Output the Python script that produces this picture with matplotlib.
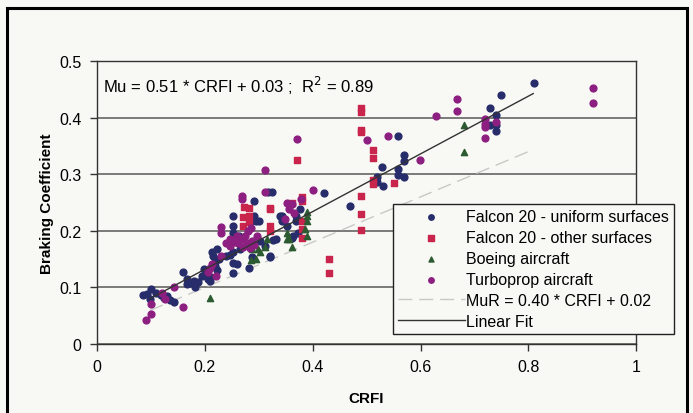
import matplotlib
matplotlib.use("Agg")
import matplotlib.pyplot as plt
import numpy as np
from matplotlib.patches import Rectangle

plt.rcParams["font.family"] = ["Liberation Sans", "DejaVu Sans"]

# Falcon 20 - uniform surfaces
uni_x = [0.085, 0.092, 0.098, 0.101, 0.109, 0.118, 0.129, 0.135, 0.142, 0.125,
         0.160, 0.166, 0.166, 0.172, 0.179, 0.188, 0.194, 0.203, 0.210, 0.210, 0.182, 0.198,
         0.213, 0.215, 0.219, 0.222, 0.222, 0.226, 0.205, 0.218,
         0.252, 0.252, 0.252, 0.252, 0.252, 0.252, 0.259, 0.265, 0.247, 0.240,
         0.281, 0.285, 0.291, 0.291, 0.295, 0.287, 0.301, 0.303, 0.312, 0.318, 0.324,
         0.320, 0.327, 0.332, 0.321, 0.281, 0.263,
         0.339, 0.344, 0.352, 0.343, 0.369, 0.369, 0.377, 0.373, 0.361, 0.364,
         0.421, 0.470,
         0.519, 0.520, 0.528, 0.530, 0.559, 0.559, 0.559, 0.570, 0.570, 0.570,
         0.729, 0.729, 0.740, 0.740, 0.740, 0.750, 0.810]
uni_y = [0.086, 0.088, 0.080, 0.097, 0.090, 0.087, 0.085, 0.078, 0.074, 0.082,
         0.127, 0.115, 0.106, 0.108, 0.112, 0.109, 0.121, 0.127, 0.118, 0.112, 0.100, 0.132,
         0.162, 0.155, 0.138, 0.168, 0.131, 0.150, 0.115, 0.145,
         0.226, 0.209, 0.197, 0.162, 0.144, 0.125, 0.141, 0.168, 0.158, 0.155,
         0.224, 0.218, 0.253, 0.226, 0.218, 0.153, 0.218, 0.182, 0.174, 0.269, 0.268,
         0.156, 0.183, 0.185, 0.153, 0.135, 0.190,
         0.226, 0.218, 0.209, 0.227, 0.226, 0.218, 0.238, 0.197, 0.188, 0.191,
         0.266, 0.244,
         0.296, 0.286, 0.312, 0.279, 0.368, 0.309, 0.299, 0.334, 0.324, 0.296,
         0.417, 0.387, 0.405, 0.387, 0.377, 0.440, 0.462]

# Falcon 20 - other surfaces
oth_x = [0.273, 0.271, 0.271, 0.281, 0.281, 0.281, 0.321, 0.321, 0.321, 0.320,
         0.370, 0.380, 0.380, 0.380, 0.380, 0.380, 0.361,
         0.430, 0.430,
         0.490, 0.490, 0.490, 0.490, 0.490, 0.490, 0.490,
         0.511, 0.511, 0.511, 0.511, 0.550]
oth_y = [0.243, 0.224, 0.209, 0.226, 0.215, 0.241, 0.241, 0.209, 0.200, 0.239,
         0.326, 0.259, 0.252, 0.218, 0.203, 0.187, 0.250,
         0.150, 0.125,
         0.417, 0.410, 0.379, 0.374, 0.261, 0.230, 0.202,
         0.342, 0.329, 0.289, 0.283, 0.284]

# Boeing aircraft
boe_x = [0.210, 0.287, 0.295, 0.303, 0.311, 0.316, 0.299, 0.285,
         0.352, 0.357, 0.361, 0.352, 0.385, 0.389, 0.389, 0.389, 0.389,
         0.680, 0.680]
boe_y = [0.081, 0.168, 0.150, 0.162, 0.171, 0.185, 0.168, 0.148,
         0.197, 0.186, 0.171, 0.186, 0.203, 0.226, 0.218, 0.190, 0.233,
         0.387, 0.340]

# Turboprop aircraft
tur_x = [0.091, 0.101, 0.101, 0.120, 0.126, 0.142, 0.160,
         0.210, 0.213, 0.220, 0.205, 0.230, 0.230, 0.230,
         0.240, 0.247, 0.247, 0.255, 0.262, 0.268, 0.270, 0.275, 0.278, 0.283,
         0.288, 0.292, 0.296, 0.260, 0.280, 0.285, 0.269, 0.269,
         0.311, 0.312,
         0.352, 0.357, 0.361, 0.365, 0.379, 0.348, 0.370, 0.400,
         0.500, 0.539, 0.599, 0.629, 0.668, 0.668,
         0.719, 0.719, 0.719, 0.740, 0.719, 0.920, 0.920]
tur_y = [0.042, 0.053, 0.071, 0.090, 0.080, 0.100, 0.065,
         0.134, 0.141, 0.120, 0.128, 0.155, 0.206, 0.197,
         0.178, 0.185, 0.174, 0.180, 0.178, 0.185, 0.172, 0.190, 0.178, 0.170,
         0.182, 0.175, 0.190, 0.190, 0.200, 0.205, 0.262, 0.256,
         0.308, 0.269,
         0.250, 0.238, 0.247, 0.232, 0.256, 0.221, 0.362, 0.272,
         0.361, 0.367, 0.325, 0.403, 0.433, 0.411,
         0.398, 0.389, 0.383, 0.392, 0.364, 0.452, 0.426]

# regression lines
fit_slope, fit_icpt = 0.51, 0.03
mur_slope, mur_icpt = 0.40, 0.02
line_x = [0.098, 0.809]

bg = "#f8f8f4"
fig = plt.figure(figsize=(6.93, 4.14), dpi=100, facecolor=bg)
ax = fig.add_axes([0.14, 0.1667, 0.778, 0.6833], facecolor=bg)

ax.scatter(uni_x, uni_y, s=24, marker="o", color="#272c6a", label="Falcon 20 - uniform surfaces", zorder=3)
ax.scatter(oth_x, oth_y, s=22, marker="s", color="#c8244c", label="Falcon 20 - other surfaces", zorder=3)
ax.scatter(boe_x, boe_y, s=20, marker="^", color="#2c5a31", label="Boeing aircraft", zorder=3)
ax.scatter(tur_x, tur_y, s=24, marker="o", color="#8c1f80", label="Turboprop aircraft", zorder=3)

lx = np.array(line_x)
ax.plot(lx, mur_slope * lx + mur_icpt, color="#c8c8c4", lw=1.0, dashes=(10, 5),
        label="MuR = 0.40 * CRFI + 0.02", zorder=2)
ax.plot(lx, fit_slope * lx + fit_icpt, color="#333333", lw=1.0, label="Linear Fit", zorder=4)

ax.set_xlim(0, 1)
ax.set_ylim(0, 0.5)
ax.set_xticks([0, 0.2, 0.4, 0.6, 0.8, 1])
ax.set_xticklabels(["0", "0.2", "0.4", "0.6", "0.8", "1"])
ax.set_yticks([0, 0.1, 0.2, 0.3, 0.4, 0.5])
ax.set_yticklabels(["0", "0.1", "0.2", "0.3", "0.4", "0.5"])
ax.yaxis.grid(True, color="#707070", lw=1.3)
ax.set_axisbelow(True)
for s in ax.spines.values():
    s.set_color("#333333")
    s.set_linewidth(1.0)
ax.tick_params(direction="out", length=5, width=1, labelsize=11.5, color="#333333", pad=6)

ax.set_xlabel("CRFI", fontsize=11, fontweight="bold", labelpad=12)
ax.set_ylabel("Braking Coefficient", fontsize=11, fontweight="bold", labelpad=4)

ax.text(0.012, 0.457, "Mu = 0.51 * CRFI + 0.03 ;  R$^2$ = 0.89", fontsize=12,
        va="center", ha="left")

leg = ax.legend(loc="upper left", bbox_to_anchor=(0.567, 0.505), bbox_transform=fig.transFigure,
                borderaxespad=0, fancybox=False, framealpha=1, facecolor=bg, edgecolor="#222222",
                fontsize=11.5, handlelength=4.2, handletextpad=0.1, labelspacing=0.38,
                borderpad=0.3, markerscale=0.8)
leg.get_frame().set_linewidth(1.0)

fig.patches.append(Rectangle((7 / 693, -0.05), 680 / 693, 1 - 9 / 414 + 0.05,
                             transform=fig.transFigure, fill=False, edgecolor="black", lw=2.2))

fig.savefig("out.png", dpi=100, facecolor=bg)
